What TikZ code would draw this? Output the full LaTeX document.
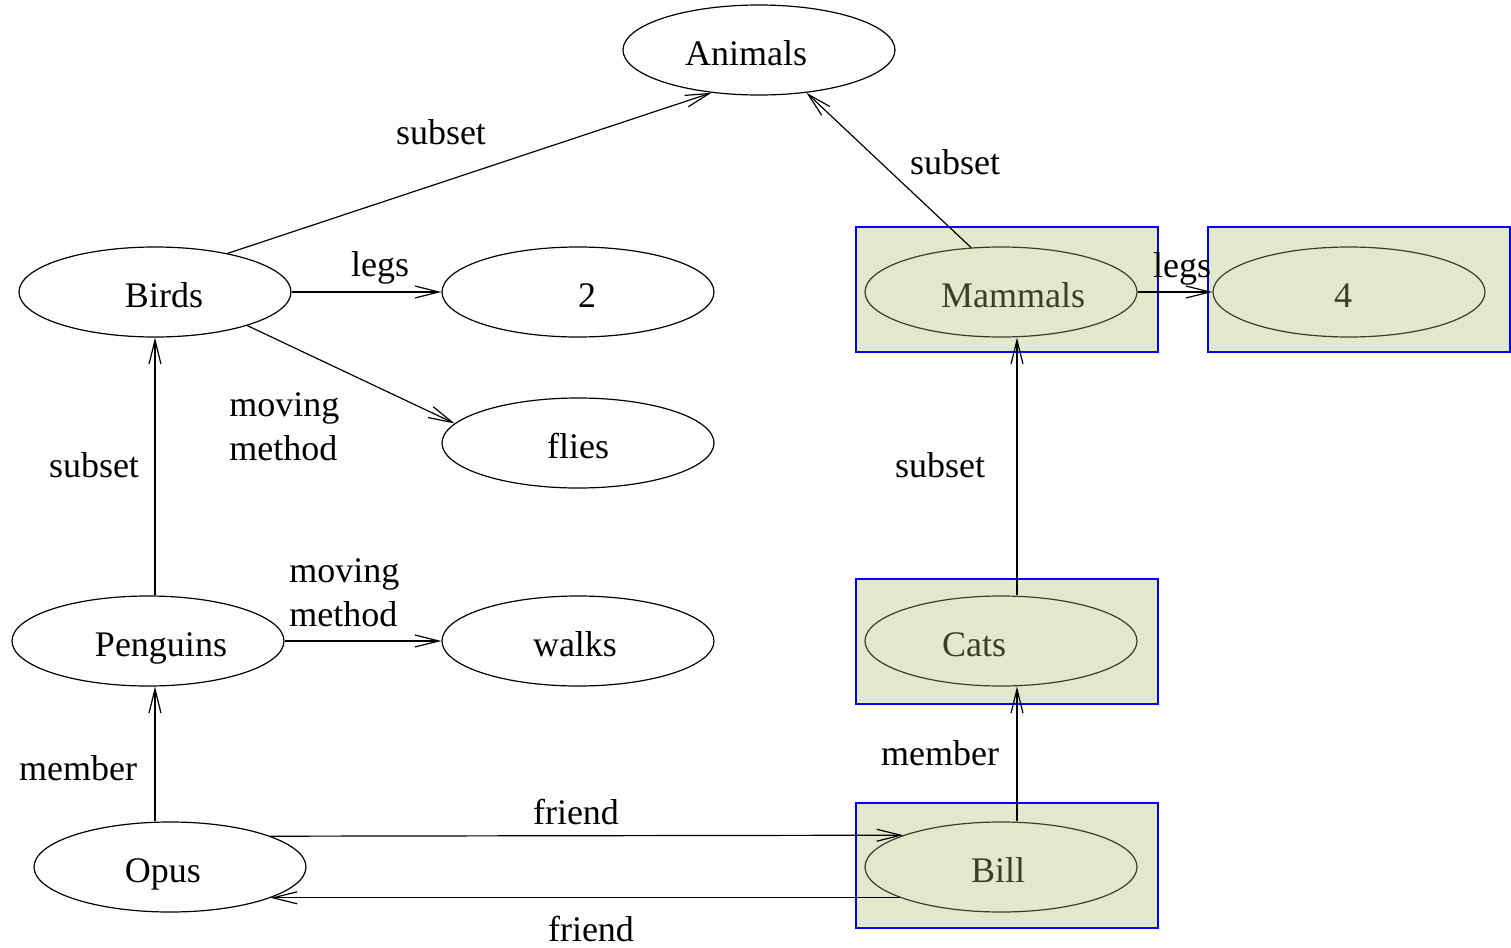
\documentclass[tikz,border=0pt]{standalone}
\usepackage{fontspec}
\setmainfont{Liberation Serif}
\usetikzlibrary{shapes.geometric,arrows.meta}
\definecolor{boxfill}{RGB}{226,232,203}
\definecolor{boxink}{RGB}{58,62,38}

\begin{document}
\begin{tikzpicture}[x=0.5pt,y=-0.5pt,line width=0.6pt,
    every node/.style={font=\fontsize{18}{22}\selectfont},
    concept/.style={shape=ellipse,draw=black,minimum width=136pt,minimum height=45pt,inner sep=0pt,
        text height=19pt,text depth=4pt},
    known/.style={concept,draw=boxink,text=boxink},
    frame/.style={draw=blue,fill=boxfill,line width=1pt,minimum width=151pt,minimum height=62.5pt,inner sep=0pt},
    >={Straight Barb[length=12pt,width=6pt]}]
    \useasboundingbox (0,0) rectangle (1511,948);
    % blue frames behind the known concepts
    \node[frame] (mammalsbox) at (1007, 289.5) {};
    \node[frame] (fourbox)    at (1358.5, 289.5) {};
    \node[frame] (catsbox)    at (1007, 641.5) {};
    \node[frame] (billbox)    at (1007, 865.5) {};
    % concepts
    \node[concept] (animals)  at (759, 50)  {Animals\hspace*{13pt}};
    \node[concept] (birds)    at (155, 292) {\hspace*{9pt}Birds};
    \node[concept] (two)      at (578, 292) {\hspace*{9pt}2};
    \node[concept] (flies)    at (578, 443) {flies};
    \node[concept] (penguins) at (148, 641) {\hspace*{13pt}Penguins};
    \node[concept] (walks)    at (578, 641) {walks\hspace*{3pt}};
    \node[concept] (opus)     at (170, 867) {Opus\hspace*{7pt}};
    \node[known]   (mammals)  at (1001, 292) {\hspace*{12pt}Mammals};
    \node[known]   (four)     at (1349, 292) {4\hspace*{6pt}};
    \node[known]   (cats)     at (1001, 641) {Cats\hspace*{27pt}};
    \node[known]   (bill)     at (1001, 867) {Bill\hspace*{3pt}};
    % relations
    \path[->] (birds.28) edge (animals.222);
    \path[->] (mammals.124) edge (animals.318);
    \path[->] (birds.east) edge (two.west);
    \path[->] (birds.340) edge (flies.171);
    \path[->] (penguins.north -| birds) edge (birds.south);
    \path[->] (penguins.east) edge (walks.west);
    \path[->] (opus.north -| birds) edge (penguins.south -| birds);
    \path[->] (opus.17.5) edge (bill.162.5);
    \path[->] (bill.197) edge (opus.343);
    \path[->] ([xshift=8pt]cats.north) edge ([xshift=8pt]mammals.south);
    \path[->] ([xshift=8pt]bill.north) edge ([xshift=8pt]cats.south);
    \path[->] (mammals.east) edge (four.west);
    % labels
    \node (lsubA)   at (441, 132) {subset};
    \node (lsubB)   at (955, 162) {subset};
    \node (llegsA)  at (380, 268) {legs};
    \node (llegsB)  at (1182, 269) {legs};
    \node[anchor=west,align=left] (lmoveA) at (222, 427) {moving\\method};
    \node[anchor=west,align=left] (lmoveB) at (282, 593) {moving\\method};
    \node (lsubC)   at (94, 465)  {subset};
    \node (lsubD)   at (940, 465) {subset};
    \node (lmemA)   at (78, 768)  {member};
    \node (lmemB)   at (940, 753) {member};
    \node (lfriendA) at (576, 812) {friend};
    \node (lfriendB) at (591, 929) {friend};
\end{tikzpicture}
\end{document}
